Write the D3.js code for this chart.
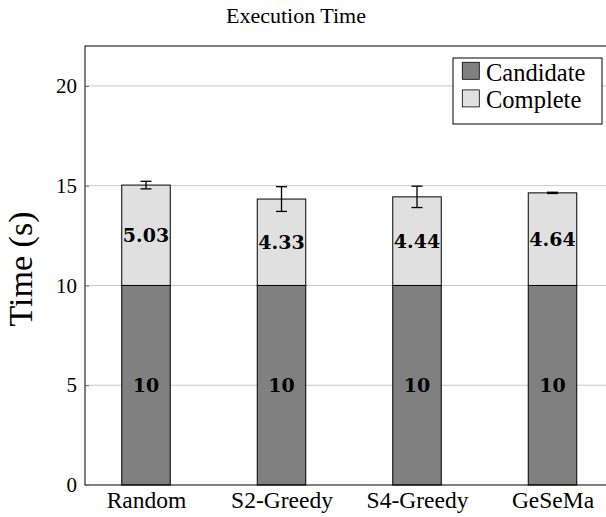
<!DOCTYPE html>
<html>
<head>
<meta charset="utf-8">
<script src="https://cdn.jsdelivr.net/npm/d3@7"></script>
<style>
  html, body { margin: 0; padding: 0; background: #fff; }
  svg { display: block; }
  text { font-family: "Liberation Serif", "DejaVu Serif", serif; fill: #000; }
  .val { font-family: "DejaVu Serif", serif; font-weight: bold; }
</style>
</head>
<body>
<svg id="chart" width="606" height="517"></svg>
<script>
// Methods compared
const categories = ["Random", "S2-Greedy", "S4-Greedy", "GeSeMa"];
// Stacked time components (seconds)
const candidateTime = [10, 10, 10, 10];
const completeTime = [5.03, 4.33, 4.44, 4.64];
// Error of the total time (seconds)
const totalError = [0.19, 0.62, 0.535, 0.03];
const yTicks = [0, 5, 10, 15, 20];
const seriesNames = ["Candidate", "Complete"];
const seriesColors = ["#808080", "#e0e0e0"];

const svg = d3.select("#chart");
const plot = { left: 85, right: 614, top: 46, bottom: 485 };

const x = d3.scalePoint().domain(categories).range([146, 552.5]);
const barW = 48.5;
const y = d3.scaleLinear().domain([0, 22]).range([plot.bottom, plot.top]);

// grid lines
svg.append("g")
  .selectAll("line")
  .data(yTicks.filter(d => d > 0))
  .join("line")
  .attr("x1", plot.left).attr("x2", plot.right)
  .attr("y1", d => y(d)).attr("y2", d => y(d))
  .attr("stroke", "#c8c8c8").attr("stroke-width", 1);

// stacked bars
const rows = categories.map((c, i) => ({
  cat: c, cand: candidateTime[i], comp: completeTime[i], err: totalError[i]
}));

const bars = svg.append("g");
bars.selectAll("rect.cand")
  .data(rows).join("rect")
  .attr("class", "cand")
  .attr("x", d => x(d.cat) - barW / 2)
  .attr("width", barW)
  .attr("y", d => y(d.cand))
  .attr("height", d => y(0) - y(d.cand))
  .attr("fill", seriesColors[0]).attr("stroke", "#000").attr("stroke-width", 1);

bars.selectAll("rect.comp")
  .data(rows).join("rect")
  .attr("class", "comp")
  .attr("x", d => x(d.cat) - barW / 2)
  .attr("width", barW)
  .attr("y", d => y(d.cand + d.comp))
  .attr("height", d => y(d.cand) - y(d.cand + d.comp))
  .attr("fill", seriesColors[1]).attr("stroke", "#000").attr("stroke-width", 1);

// value labels
bars.selectAll("text.lcand")
  .data(rows).join("text")
  .attr("class", "val")
  .attr("x", d => x(d.cat))
  .attr("y", d => y(d.cand / 2))
  .attr("dy", "0.35em")
  .attr("text-anchor", "middle")
  .attr("font-size", 19)
  .text(d => d.cand);

bars.selectAll("text.lcomp")
  .data(rows).join("text")
  .attr("class", "val")
  .attr("x", d => x(d.cat))
  .attr("y", d => y(d.cand + d.comp / 2))
  .attr("dy", "0.35em")
  .attr("text-anchor", "middle")
  .attr("font-size", 19)
  .text(d => d.comp.toFixed(2));

// error bars
const eb = svg.append("g").attr("stroke", "#000").attr("stroke-width", 1.3);
rows.forEach(d => {
  const top = d.cand + d.comp;
  const cx = x(d.cat);
  eb.append("line").attr("x1", cx).attr("x2", cx)
    .attr("y1", y(top + d.err)).attr("y2", y(top - d.err));
  [top + d.err, top - d.err].forEach(v => {
    eb.append("line").attr("x1", cx - 5.5).attr("x2", cx + 5.5)
      .attr("y1", y(v)).attr("y2", y(v));
  });
});

// frame
svg.append("rect")
  .attr("x", plot.left).attr("y", plot.top)
  .attr("width", plot.right - plot.left).attr("height", plot.bottom - plot.top)
  .attr("fill", "none").attr("stroke", "#000").attr("stroke-width", 1);

// y axis
const yAxis = svg.append("g")
  .attr("transform", `translate(${plot.left},0)`)
  .call(d3.axisRight(y).tickValues(yTicks).tickSize(4).tickFormat(d3.format("d")));
yAxis.select(".domain").remove();
yAxis.selectAll(".tick line").attr("stroke", "#666");
yAxis.selectAll(".tick text")
  .attr("x", -8).attr("text-anchor", "end")
  .attr("font-size", 21).attr("font-family", "Liberation Serif, serif");

// x axis labels
const xAxis = svg.append("g")
  .attr("transform", `translate(0,${plot.bottom})`)
  .call(d3.axisBottom(x).tickSize(0).tickPadding(0));
xAxis.select(".domain").remove();
xAxis.selectAll(".tick text")
  .attr("font-size", 23.5).attr("font-family", "Liberation Serif, serif")
  .attr("y", 23).attr("dy", null);

// axis title
svg.append("text")
  .attr("transform", `translate(32,269) rotate(-90)`)
  .attr("text-anchor", "middle")
  .attr("font-size", 34)
  .text("Time (s)");

// chart title
svg.append("text")
  .attr("x", 296).attr("y", 23)
  .attr("text-anchor", "middle")
  .attr("font-size", 22)
  .text("Execution Time");

// legend
const lg = svg.append("g").attr("transform", "translate(453,58)");
lg.append("rect").attr("width", 149).attr("height", 66)
  .attr("fill", "#fff").attr("stroke", "#000").attr("stroke-width", 1);
seriesNames.forEach((n, i) => {
  const base = 22.7 + i * 27.6;
  lg.append("rect").attr("x", 9.3).attr("y", base - 18.4).attr("width", 17).attr("height", 17)
    .attr("fill", seriesColors[i]).attr("stroke", "#000").attr("stroke-width", 0.8);
  lg.append("text").attr("x", 33).attr("y", base)
    .attr("font-size", 24.5).text(n);
});
</script>
</body>
</html>
